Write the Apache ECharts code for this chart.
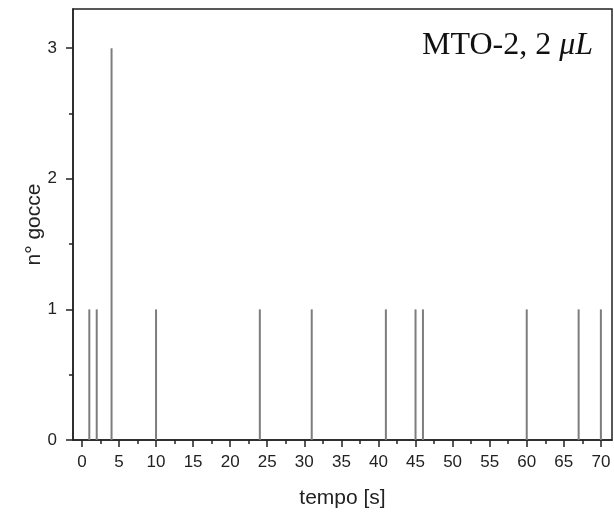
<!DOCTYPE html>
<html>
<head>
<meta charset="utf-8">
<script src="https://cdn.jsdelivr.net/npm/echarts@6/dist/echarts.min.js"></script>
<style>
  html, body { margin: 0; padding: 0; background: #fff; }
  #chart { width: 614px; height: 514px; }
</style>
</head>
<body>
<div id="chart"></div>
<script>
// Drop arrival times (s) and drop counts at each time
const times = [1, 2, 4, 10, 24, 31, 41, 45, 46, 60, 67, 70];
const counts = [1, 1, 3, 1, 1, 1, 1, 1, 1, 1, 1, 1];

// Tick positions
const xMajorTicks = [0, 5, 10, 15, 20, 25, 30, 35, 40, 45, 50, 55, 60, 65, 70];
const xMinorTicks = [2.5, 7.5, 12.5, 17.5, 22.5, 27.5, 32.5, 37.5, 42.5, 47.5, 52.5, 57.5, 62.5, 67.5];
const yMajorTicks = [0, 1, 2, 3];
const yMinorTicks = [0.5, 1.5, 2.5];

const axisColor = '#222';
const sans = 'Liberation Sans, Arial, sans-serif';
const tickFont = { fontFamily: sans, fontSize: 17, color: '#222' };
const nameFont = { fontFamily: sans, fontSize: 21, color: '#222' };

const chart = echarts.init(document.getElementById('chart'), null, { renderer: 'canvas' });

const xBase = { type: 'value', min: -1.2, max: 71.5, gridIndex: 0, position: 'bottom', splitLine: { show: false } };
const yBase = { type: 'value', min: 0, max: 3.3, gridIndex: 0, position: 'left', splitLine: { show: false } };

chart.setOption({
  animation: false,
  backgroundColor: '#fff',
  grid: {
    left: 73, right: 2, top: 9, bottom: 72,
    show: true, borderColor: axisColor, borderWidth: 1.5, backgroundColor: 'transparent'
  },
  xAxis: [
    Object.assign({}, xBase, {
      name: 'tempo [s]', nameLocation: 'middle', nameGap: 48, nameMoveOverlap: false,
      nameTextStyle: nameFont,
      axisLine: { show: true, onZero: false, lineStyle: { color: axisColor, width: 1.5 } },
      axisTick: { show: true, inside: false, length: 7, lineStyle: { color: axisColor, width: 1.5 }, customValues: xMajorTicks },
      axisLabel: Object.assign({ show: true, margin: 14, customValues: xMajorTicks }, tickFont)
    }),
    Object.assign({}, xBase, {
      axisLine: { show: false, onZero: false },
      axisTick: { show: true, inside: false, length: 4, lineStyle: { color: axisColor, width: 1.5 }, customValues: xMinorTicks },
      axisLabel: { show: false }
    })
  ],
  yAxis: [
    Object.assign({}, yBase, {
      name: 'n° gocce', nameLocation: 'middle', nameGap: 28, nameRotate: 90, nameMoveOverlap: false,
      nameTextStyle: nameFont,
      axisLine: { show: true, onZero: false, lineStyle: { color: axisColor, width: 1.5 } },
      axisTick: { show: true, inside: false, length: 7, lineStyle: { color: axisColor, width: 1.5 }, customValues: yMajorTicks },
      axisLabel: Object.assign({ show: true, margin: 16, customValues: yMajorTicks }, tickFont)
    }),
    Object.assign({}, yBase, {
      axisLine: { show: false, onZero: false },
      axisTick: { show: true, inside: false, length: 4, lineStyle: { color: axisColor, width: 1.5 }, customValues: yMinorTicks },
      axisLabel: { show: false }
    })
  ],
  series: [{
    type: 'bar',
    xAxisIndex: 0, yAxisIndex: 0,
    barWidth: 2,
    itemStyle: { color: '#7d7d7d' },
    data: times.map((t, i) => [t, counts[i]])
  }],
  graphic: [{
    type: 'text',
    right: 21, top: 30,
    style: {
      text: '{n|MTO-2, 2 }{i|μL}',
      rich: {
        n: { fontFamily: 'Liberation Serif, Times New Roman, serif', fontSize: 32, fill: '#111' },
        i: { fontFamily: 'Liberation Serif, Times New Roman, serif', fontSize: 32, fontStyle: 'italic', fill: '#111' }
      }
    }
  }]
});
</script>
</body>
</html>
